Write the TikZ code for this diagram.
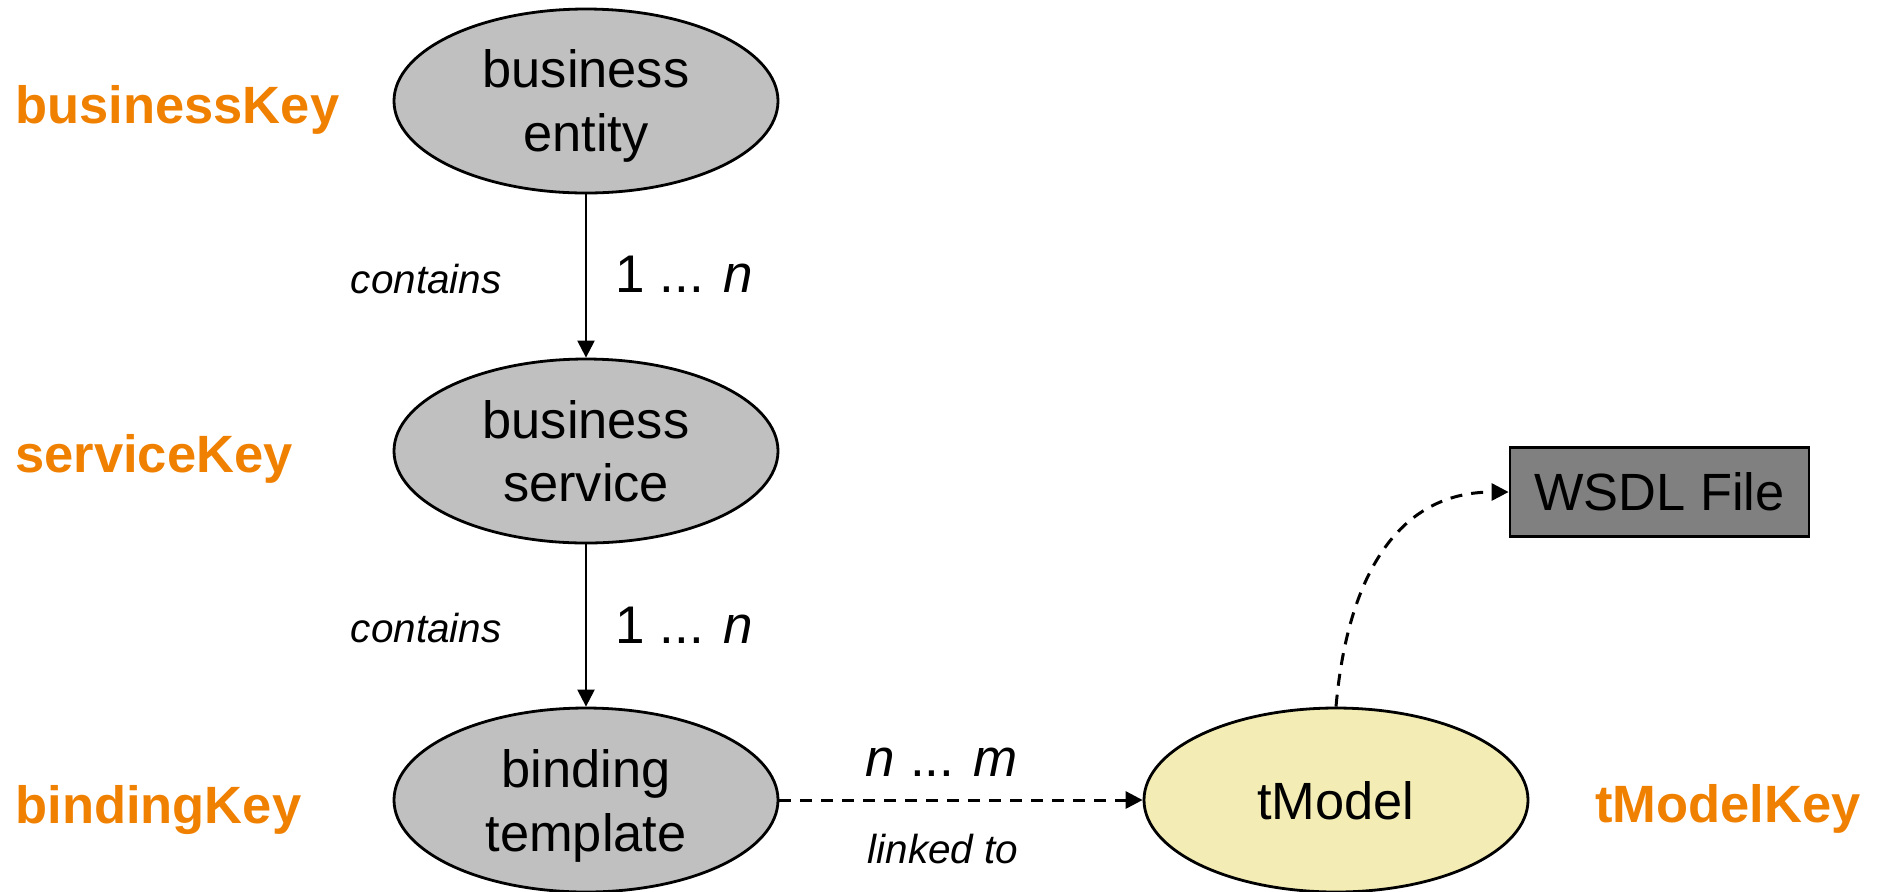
\documentclass[tikz,border=0pt]{standalone}
\usepackage{fontspec}
\setmainfont{Liberation Sans}
\usetikzlibrary{arrows.meta,shapes.geometric}
\definecolor{keyorange}{RGB}{240,128,0}
\definecolor{ellgray}{RGB}{192,192,192}
\definecolor{tmyellow}{RGB}{243,236,180}
\definecolor{wsdlgray}{RGB}{128,128,128}
\begin{document}
\begin{tikzpicture}[x=0.5pt,y=-0.5pt,
  ent/.style={ellipse,draw=black,line width=1.4pt,fill=ellgray,minimum width=192pt,minimum height=92pt,inner sep=0pt,align=center,text depth=0pt,font=\fontsize{26.2}{32}\selectfont},
  filebox/.style={rectangle,draw=black,line width=1.4pt,fill=wsdlgray,minimum width=149.5pt,minimum height=44.5pt,inner sep=0pt,font=\fontsize{26.2}{32}\selectfont},
  keylabel/.style={anchor=base west,inner sep=0pt,text=keyorange,font=\bfseries\fontsize{26.25}{30}\selectfont},
  rellabel/.style={inner sep=0pt,font=\itshape\fontsize{20.25}{24}\selectfont},
  cardlabel/.style={inner sep=0pt,font=\fontsize{26.5}{30}\selectfont},
  solidarrow/.style={line width=1.15pt,-{Triangle[length=8.5pt,width=8.5pt]}},
  dasharrow/.style={line width=1.5pt,dash pattern=on 6pt off 4.5pt,-{Triangle[length=8.5pt,width=8.5pt]}}
]
\useasboundingbox (0,0) rectangle (1879,891);

% main entities
\node[ent] (be) at (586,101) {business\\entity};
\node[ent] (bs) at (586,451) {business\\service};
\node[ent] (bt) at (586,800) {binding\\template};
\node[ent,fill=tmyellow] (tm) at (1336,800) {tModel};
\node[filebox] (wsdl) at (1659.5,492) {WSDL File};

% key labels
\node[keylabel] (kb) at (15,123) {businessKey};
\node[keylabel] (ks) at (15,472) {serviceKey};
\node[keylabel] (kbind) at (15,823) {bindingKey};
\node[keylabel] (kt) at (1595,822) {tModelKey};

% connectors
\draw[solidarrow] (be) -- (bs);
\draw[solidarrow] (bs) -- (bt);
\draw[dasharrow] (bt) -- (tm);
\draw[dasharrow] (tm.north) to[out=85,in=180,looseness=1.1] (wsdl.west);

% connector labels
\node[rellabel,anchor=base east] (c1) at (502,293) {contains};
\node[cardlabel,anchor=base west] (n1) at (615,292) {1 ... \textit{n}};
\node[rellabel,anchor=base east] (c2) at (502,642) {contains};
\node[cardlabel,anchor=base west] (n2) at (615,643) {1 ... \textit{n}};
\node[cardlabel,anchor=base] (nm) at (942,776) {\textit{n} ... \textit{m}};
\node[rellabel,anchor=base] (lt) at (943,863) {linked to};
\end{tikzpicture}
\end{document}
